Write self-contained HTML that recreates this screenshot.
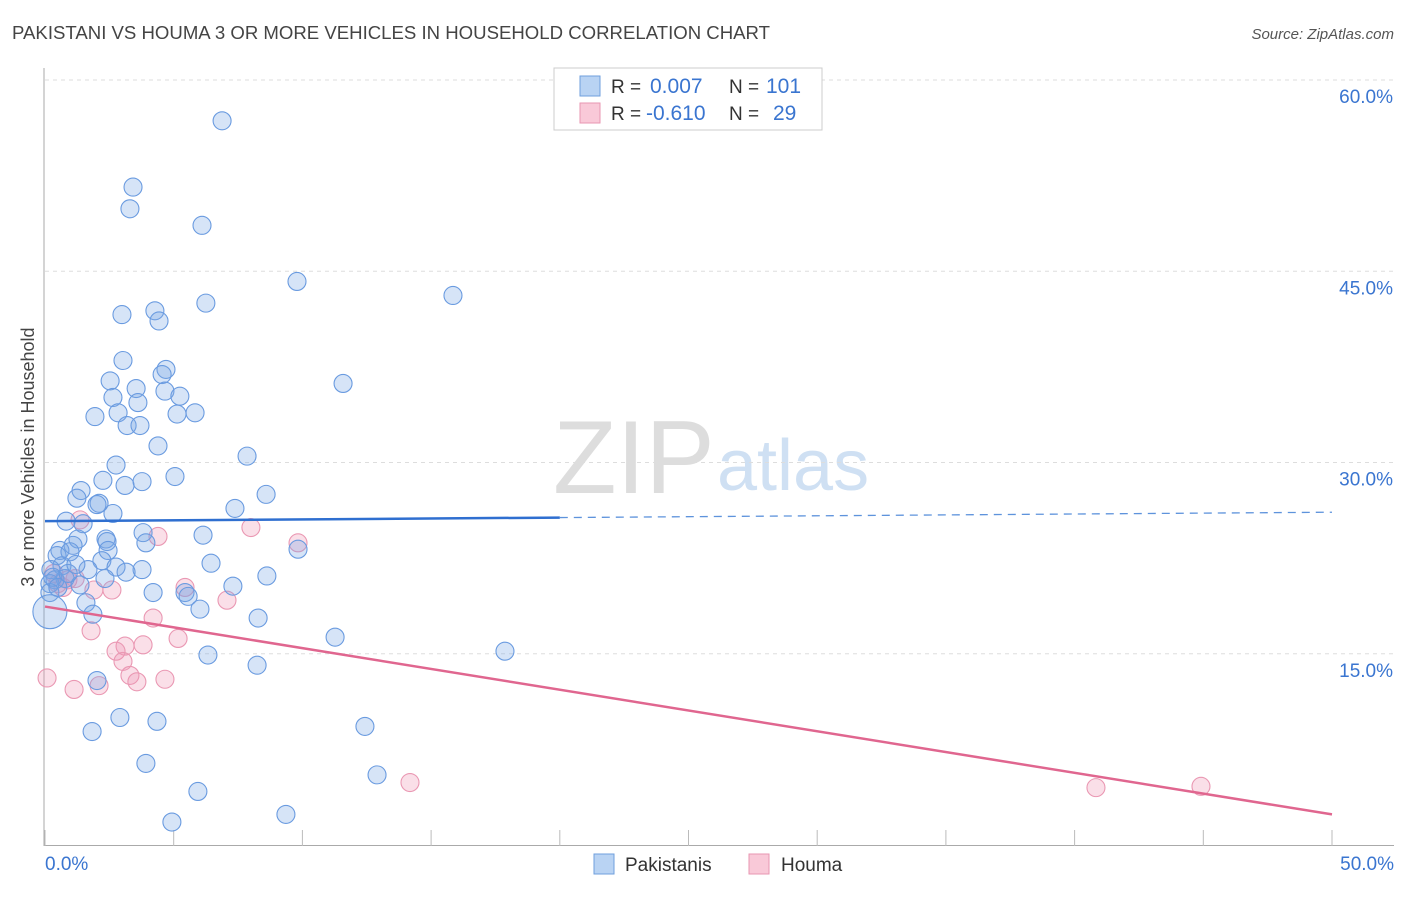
<!DOCTYPE html>
<html><head><meta charset="utf-8"><style>
body{margin:0;background:#fff;font-family:"Liberation Sans",sans-serif}
svg text{font-family:"Liberation Sans",sans-serif}
</style></head><body>
<svg id="chart" width="1406" height="892" xmlns="http://www.w3.org/2000/svg">
<text x="12" y="39" font-size="18.6" fill="#444">PAKISTANI VS HOUMA 3 OR MORE VEHICLES IN HOUSEHOLD CORRELATION CHART</text>
<text x="1394" y="39" font-size="15" fill="#555" font-style="italic" text-anchor="end">Source: ZipAtlas.com</text>
<g>
<text x="553" y="493" font-size="104" font-family="Liberation Serif,serif" fill="#ddd">ZIP</text>
<text x="717" y="490" font-size="72" fill="#cfe0f3">atlas</text>
</g>
<g id="grid"></g>
<g id="axes"></g>
<g id="marks"></g>
<text transform="translate(34,457) rotate(-90)" font-size="18" fill="#444" text-anchor="middle">3 or more Vehicles in Household</text>
<g>
<rect x="554" y="68" width="268" height="62" fill="#fff" stroke="#ccc"/>
<rect x="580" y="76" width="20" height="20" fill="#b9d3f3" stroke="#6f9fdc"/>
<rect x="580" y="103" width="20" height="20" fill="#f9c9d8" stroke="#e896b2"/>
<text x="611" y="93" font-size="19" fill="#333">R =</text>
<text x="650" y="93" font-size="21" fill="#3a75d0">0.007</text>
<text x="729" y="93" font-size="19" fill="#333">N =</text>
<text x="766" y="93" font-size="21" fill="#3a75d0">101</text>
<text x="611" y="120" font-size="19" fill="#333">R =</text>
<text x="646" y="120" font-size="21" fill="#3a75d0">-0.610</text>
<text x="729" y="120" font-size="19" fill="#333">N =</text>
<text x="773" y="120" font-size="21" fill="#3a75d0">29</text>
</g>
<g>
<rect x="594" y="854" width="20" height="20" fill="#b9d3f3" stroke="#6f9fdc"/>
<text x="625" y="871" font-size="19" fill="#333">Pakistanis</text>
<rect x="749" y="854" width="20" height="20" fill="#f9c9d8" stroke="#e896b2"/>
<text x="781" y="871" font-size="19" fill="#333">Houma</text>
</g>
</svg>
<script>
const blueX=[6.88,3.42,3.30,6.10,9.79,15.85,6.25,4.27,2.99,4.43,3.03,4.70,4.55,2.53,11.58,3.54,4.66,5.24,2.64,3.61,2.84,1.94,5.13,5.83,3.19,3.69,4.39,7.85,2.76,2.25,5.05,3.77,3.11,1.40,1.24,8.59,2.10,2.02,7.38,2.64,0.82,1.48,3.81,6.14,1.28,2.37,2.41,3.92,1.09,0.58,9.83,2.45,0.47,0.97,2.21,6.45,0.66,2.76,3.77,0.23,1.67,3.15,8.62,0.78,2.33,0.39,0.19,1.36,7.30,4.20,5.44,5.56,0.19,1.59,6.02,1.86,8.28,11.27,17.87,6.33,8.24,2.02,2.91,4.35,1.83,12.43,3.92,12.90,5.94,4.93,9.36,0.3,0.5,0.9,1.2];
const blueY=[56.8,51.6,49.9,48.6,44.2,43.1,42.5,41.9,41.6,41.1,38.0,37.3,36.9,36.4,36.2,35.8,35.6,35.2,35.1,34.7,33.9,33.6,33.8,33.9,32.9,32.9,31.3,30.5,29.8,28.6,28.9,28.5,28.2,27.8,27.2,27.5,26.8,26.7,26.4,26.0,25.4,25.2,24.5,24.3,24.0,24.0,23.8,23.7,23.5,23.1,23.2,23.1,22.7,23.0,22.3,22.1,21.9,21.8,21.6,21.6,21.6,21.4,21.1,20.9,20.9,20.8,20.5,20.4,20.3,19.8,19.8,19.5,19.8,19.0,18.5,18.1,17.8,16.3,15.2,14.9,14.1,12.9,10.0,9.7,8.9,9.3,6.4,5.5,4.2,1.8,2.4,21.0,20.2,21.3,22.0];
const pinkX=[1.36,4.39,8.0,9.83,0.35,0.89,1.17,0.70,1.90,2.60,5.44,7.07,4.20,1.79,3.11,3.81,5.17,2.76,3.03,3.30,3.57,4.66,2.10,1.13,0.08,14.18,40.83,44.91,0.5];
const pinkY=[25.5,24.2,24.9,23.7,21.3,20.8,20.9,20.2,20.0,20.0,20.2,19.2,17.8,16.8,15.6,15.7,16.2,15.2,14.4,13.3,12.8,13.0,12.5,12.2,13.1,4.9,4.5,4.6,20.5];
const bigBlue=[[0.19,18.3]];
const trendBlue=[25.4,26.1];
const trendPink=[18.7,2.4];
const yTicks=[15,30,45,60];
const xTicks=[0,50];
const NS="http://www.w3.org/2000/svg";
const X=v=>45+v*25.74, Y=v=>845-v*12.75;
function mk(p,t,a){const e=document.createElementNS(NS,t);for(const k in a)e.setAttribute(k,a[k]);p.appendChild(e);return e;}
const grid=document.getElementById('grid'),axes=document.getElementById('axes'),marks=document.getElementById('marks');
yTicks.forEach(t=>{
 const l=mk(grid,'line',{x1:45,x2:1394,y1:Y(t),y2:Y(t),stroke:'#ddd','stroke-dasharray':'4,4'});
 
 
 const tx=mk(grid,'text',{x:1393,y:Y(t)+23,'font-size':19,fill:'#3a75d0','text-anchor':'end'});
 tx.textContent=t.toFixed(1)+'%';
 
 
});
mk(axes,'line',{x1:44,x2:44,y1:68,y2:846,stroke:'#aaa'});
mk(axes,'line',{x1:44,x2:1394,y1:845.5,y2:845.5,stroke:'#aaa'});
for(let i=0;i<=10;i++){const t=mk(axes,'line',{x1:X(i*5),x2:X(i*5),y1:830,y2:846,stroke:'#bbb'});
 
 }
xTicks.forEach((t,i)=>{const tx=mk(axes,'text',{x:i?1394:45,y:870,'font-size':19,fill:'#3a75d0','text-anchor':i?'end':'start'});
 tx.textContent=t.toFixed(1)+'%';
 
 });
function dot(x,y,r,c){const e=mk(marks,'circle',{cx:X(x),cy:Y(y),r:r,fill:c[0],stroke:c[1],'stroke-width':1.1});return e;}
const B=['rgba(120,165,230,0.3)','#6a9be0'],P=['rgba(240,150,180,0.3)','#ea98b3'];
pinkX.forEach((x,i)=>{const e=dot(x,pinkY[i],9,P);
 
 });
blueX.forEach((x,i)=>{const e=dot(x,blueY[i],9,B);
 
 });
bigBlue.forEach(p=>{const e=dot(p[0],p[1],17,B);
 
 });
const lb=mk(marks,'line',{x1:X(0),y1:Y(trendBlue[0]),x2:X(20),y2:Y(trendBlue[0]+(trendBlue[1]-trendBlue[0])*0.4),stroke:'#2f6fd0','stroke-width':2.5});


const lbd=mk(marks,'line',{x1:X(20),y1:Y(trendBlue[0]+(trendBlue[1]-trendBlue[0])*0.4),x2:X(50),y2:Y(trendBlue[1]),stroke:'#5e93dc','stroke-width':1.3,'stroke-dasharray':'8,6'});


const lp=mk(marks,'line',{x1:X(0),y1:Y(trendPink[0]),x2:X(50),y2:Y(trendPink[1]),stroke:'#e0668f','stroke-width':2.5});


</script>
</body></html>
